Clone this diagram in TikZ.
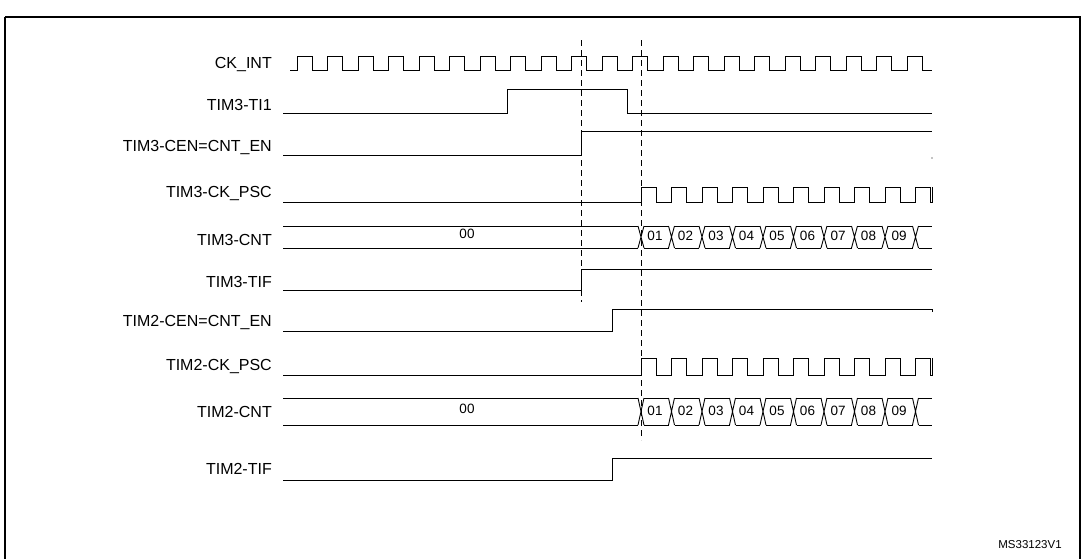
\documentclass[tikz,border=0pt]{standalone}
\usepackage{fontspec}
\setmainfont{Liberation Sans}
\begin{document}
\begin{tikzpicture}[x=1pt,y=-1pt,
  lbl/.style={anchor=east,font=\fontsize{16}{18}\selectfont,inner sep=0},
  sig/.style={line width=0.9pt},
  val/.style={font=\fontsize{13.5}{15}\selectfont,inner sep=0},
  dsh/.style={dashed,dash pattern=on 6pt off 4pt,line width=0.8pt}]
\useasboundingbox (0,0) rectangle (1085,558);
\draw[line width=1.2pt] (5,17) -- (1080,17) -- (1080,560);
\draw[line width=1.2pt] (5,17) -- (5,560);
% labels
\node[lbl] (l1) at (272,64) {CK\_INT};
\node[lbl] (l2) at (272,105) {TIM3-TI1};
\node[lbl] (l3) at (272,147) {TIM3-CEN=CNT\_EN};
\node[lbl] (l4) at (272,193) {TIM3-CK\_PSC};
\node[lbl] (l5) at (272,240) {TIM3-CNT};
\node[lbl] (l6) at (272,282) {TIM3-TIF};
\node[lbl] (l7) at (272,322) {TIM2-CEN=CNT\_EN};
\node[lbl] (l8) at (272,366) {TIM2-CK\_PSC};
\node[lbl] (l9) at (272,412) {TIM2-CNT};
\node[lbl] (l10) at (272,469) {TIM2-TIF};
% CK_INT
\draw[sig] (290,70) -- (297,70)
  \foreach \k in {0,...,20}{ -- ({297+30.5*\k},70) -- ({297+30.5*\k},56) -- ({312+30.5*\k},56) -- ({312+30.5*\k},70)} -- (932,70);
% TI1
\draw[sig] (283,113) -- (507,113) -- (507,89) -- (627,89) -- (627,113) -- (932,113);
% TIM3 CEN
\draw[sig] (283,155) -- (581,155) -- (581,131) -- (932,131);
\fill (932,158) circle (0.6);
% TIM3 CK_PSC
\draw[sig] (283,202) -- (641,202)
  \foreach \k in {0,...,9}{ -- ({641+30.5*\k},202) -- ({641+30.5*\k},187) -- ({656+30.5*\k},187) -- ({656+30.5*\k},202)} -- (932,202) -- (932,187);
% TIM3 TIF
\draw[sig] (283,290) -- (581,290) -- (581,269) -- (932,269);
% TIM2 CEN
\draw[sig] (283,331) -- (612,331) -- (612,309) -- (932,309) -- (932,312);
% TIM2 CK_PSC
\draw[sig] (283,375) -- (641,375)
  \foreach \k in {0,...,9}{ -- ({641+30.5*\k},375) -- ({641+30.5*\k},358) -- ({656+30.5*\k},358) -- ({656+30.5*\k},375)} -- (932,375) -- (932,358);
% TIM2 TIF
\draw[sig] (283,480) -- (612,480) -- (612,458) -- (932,458);
% buses
\foreach \top/\bot/\nm in {226/248/a,398/425/b}{
  \draw[sig] (283,\top) -- (638,\top) (283,\bot) -- (638,\bot);
  \node[val] (z\nm) at (467,{(\top+\bot)/2-3}) {00};
  \foreach \k in {0,...,9}{
    \draw[sig] ({638+30.5*\k},\top) -- ({644+30.5*\k},\bot)
               ({638+30.5*\k},\bot) -- ({644+30.5*\k},\top);
  }
  \foreach \k/\v in {0/01,1/02,2/03,3/04,4/05,5/06,6/07,7/08,8/09}{
    \draw[sig] ({644+30.5*\k},\top) -- ({668.5+30.5*\k},\top)
               ({644+30.5*\k},\bot) -- ({668.5+30.5*\k},\bot);
    \node[val] at ({655+30.5*\k},{(\top+\bot)/2-1}) {\v};
  }
  \draw[sig] (918.5,\top) -- (932,\top) (918.5,\bot) -- (932,\bot);
}
% dashed markers
\draw[dsh] (581,40) -- (581,302);
\draw[dsh] (641,40) -- (641,440);
\node[font=\fontsize{11.5}{13}\selectfont,inner sep=0] (ms) at (1030,545) {MS33123V1};
\end{tikzpicture}
\end{document}
